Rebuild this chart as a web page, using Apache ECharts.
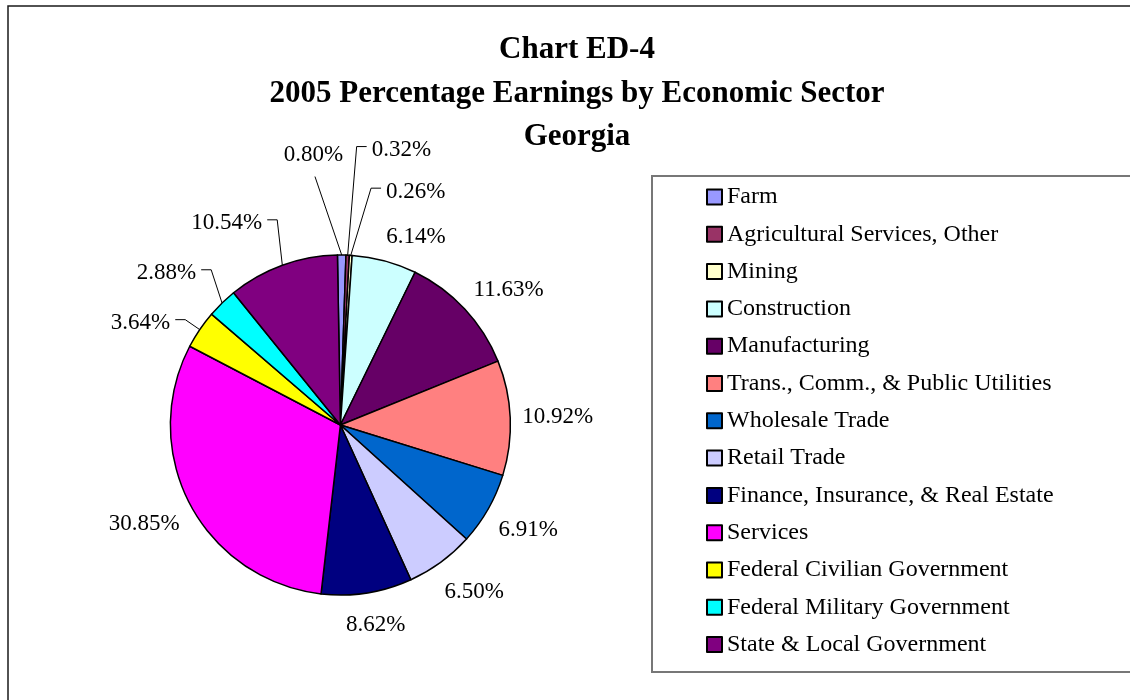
<!DOCTYPE html>
<html>
<head>
<meta charset="utf-8">
<script src="https://cdn.jsdelivr.net/npm/echarts@6/dist/echarts.min.js"></script>
<style>
  html, body { margin: 0; padding: 0; background: #fff; }
  #chart { width: 1130px; height: 700px; }
</style>
</head>
<body>
<div id="chart"></div>
<script>
// Georgia 2005 earnings by economic sector, percent of total
const sectors = [
  'Farm',
  'Agricultural Services, Other',
  'Mining',
  'Construction',
  'Manufacturing',
  'Trans., Comm., & Public Utilities',
  'Wholesale Trade',
  'Retail Trade',
  'Finance, Insurance, & Real Estate',
  'Services',
  'Federal Civilian Government',
  'Federal Military Government',
  'State & Local Government'
];
const shares = [0.80, 0.32, 0.26, 6.14, 11.63, 10.92, 6.91, 6.50, 8.62, 30.85, 3.64, 2.88, 10.54];
const sectorColors = [
  '#9999FF', '#993366', '#FFFFCC', '#CCFFFF', '#660066', '#FF8080', '#0066CC',
  '#CCCCFF', '#000080', '#FF00FF', '#FFFF00', '#00FFFF', '#800080'
];
const titleLines = ['Chart ED-4', '2005 Percentage Earnings by Economic Sector', 'Georgia'];

const SERIF = "'Times New Roman', 'Liberation Serif', serif";
const CX = 340.4, CY = 425, R = 170, START = 91;

// mid-angle of every slice, degrees clockwise from 12 o'clock
const total = shares.reduce((a, b) => a + b, 0);
const midAngles = [];
let acc = 0;
shares.forEach(v => {
  midAngles.push((acc + v / 2) / total * 360 - (START - 90));
  acc += v;
});

// labels pulled away from crowded slices (polar position of label centre)
const pulledLabels = {
  0:  { angle: 354.3, dist: 271.3, line: 'below' },
  1:  { angle: 12.5,  dist: 281.6, line: 'side' },
  2:  { angle: 17.9,  dist: 245.2, line: 'side' },
  3:  { angle: 21.9,  dist: 202.6 },
  10: { angle: 297.0, dist: 224.3, line: 'side' },
  11: { angle: 311.1, dist: 230.8, line: 'side' },
  12: { angle: 330.6, dist: 231.5, line: 'side' }
};

const clamp = v => Math.max(-1, Math.min(1, v));

function placeLabel(p) {
  const i = p.dataIndex;
  const w = p.labelRect.width;
  const th = midAngles[i] * Math.PI / 180;
  const s = Math.sin(th), c = Math.cos(th);
  const edge = [CX + R * s, CY - R * c];
  let x, y;
  const m = pulledLabels[i];
  if (m) {
    const a = m.angle * Math.PI / 180;
    x = CX + m.dist * Math.sin(a);
    y = CY - m.dist * Math.cos(a);
  } else {
    const ax = CX + (R + 12) * s, ay = CY - (R + 12) * c;
    const sx = clamp(1.5 * s), sy = clamp(-1.5 * c);
    x = ax + sx * w / 2;
    y = ay + (sy > 0 ? sy * 20 : sy * 11);
  }
  const out = { x: x, y: y, align: 'center', verticalAlign: 'middle' };
  if (m && m.line) {
    let start, bend;
    if (m.line === 'below') {
      start = [x + 1.5, y + 21.5];
      bend = start;
    } else {
      const dir = x < CX ? 1 : -1;
      const sx0 = x + dir * (w / 2 + 5);
      start = [sx0, y - 3.5];
      bend = [sx0 + dir * 10, y - 3.5];
    }
    out.labelLinePoints = [edge, bend, start];
  }
  return out;
}

const pieData = sectors.map((name, i) => ({
  name: name,
  value: shares[i],
  itemStyle: { color: sectorColors[i] },
  labelLine: { show: !!(pulledLabels[i] && pulledLabels[i].line) }
}));

const chart = echarts.init(document.getElementById('chart'), null, { renderer: 'canvas' });

chart.setOption({
  backgroundColor: '#fff',
  animation: false,
  title: titleLines.map((t, k) => ({
    text: t,
    left: 577,
    top: [34, 78, 121][k],
    textAlign: 'center',
    padding: 0,
    textStyle: {
      fontFamily: SERIF,
      fontWeight: 'bold',
      fontSize: 31,
      lineHeight: 31,
      color: '#000'
    }
  })),
  legend: {
    orient: 'vertical',
    left: 706,
    top: 185,
    padding: 0,
    itemWidth: 15,
    itemHeight: 15,
    itemGap: 13.3,
    icon: 'rect',
    selectedMode: false,
    itemStyle: { borderColor: '#000', borderWidth: 2 },
    textStyle: {
      fontFamily: SERIF,
      fontSize: 24,
      lineHeight: 24,
      color: '#000'
    },
    data: sectors
  },
  graphic: [
    {
      type: 'rect',
      shape: { x: 8, y: 6, width: 1200, height: 800 },
      style: { fill: 'none', stroke: '#1a1a1a', lineWidth: 1.5 },
      silent: true
    },
    {
      type: 'rect',
      shape: { x: 652, y: 176, width: 520, height: 496 },
      style: { fill: 'none', stroke: '#777', lineWidth: 2 },
      silent: true
    }
  ],
  series: [{
    type: 'pie',
    center: [CX, CY],
    radius: R,
    startAngle: START,
    clockwise: true,
    avoidLabelOverlap: false,
    emphasis: { disabled: true },
    itemStyle: { borderColor: '#000', borderWidth: 1.5 },
    label: {
      show: true,
      position: 'outside',
      formatter: p => shares[p.dataIndex].toFixed(2) + '%',
      fontFamily: SERIF,
      fontSize: 23,
      color: '#000'
    },
    labelLine: {
      show: false,
      length: 10,
      length2: 10,
      lineStyle: { color: '#000', width: 1 }
    },
    labelLayout: placeLabel,
    data: pieData
  }]
});
</script>
</body>
</html>
